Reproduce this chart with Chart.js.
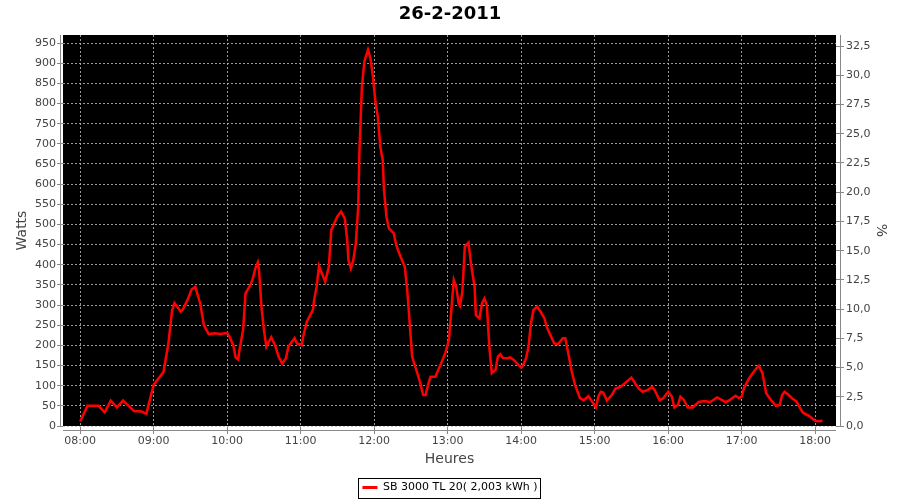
<!DOCTYPE html>
<html>
<head>
<meta charset="utf-8">
<script src="https://cdn.jsdelivr.net/npm/chart.js@4/dist/chart.umd.min.js"></script>
<style>
html,body{margin:0;padding:0;background:#fff;}
#wrap{width:900px;height:500px;}
</style>
</head>
<body>
<div id="wrap"><canvas id="c" width="900" height="500"></canvas></div>
<script>
// ---- data (time in minutes since midnight, power in watts) ----
const chartTitle = '26-2-2011';
const seriesLabel = 'SB 3000 TL 20( 2,003 kWh )';
const minutes = [480,486,495,500,505,510,515,524,530,534,540,548,552,555,557,562,564,568,571,574,
  578,581,585,590,595,600,602,605,607,609,610,613,615,619,621,623,625,626,628,630,632,634,636,639,642,645,648,650,655,657,661,662,665,670,671,
  673,675,680,683,685,688,690,693,696,698,699,701,703,705,707,708,710,712,715,717,719,721,723,725,727,728,730,732,736,738,741,745,747,749,751,754,757,760,762,764,766,770,
  774,778,781,783,785,787,789,790,792,794,797,799,802,803,806,808,810,812,814,816,819,821,823,825,829,831,834,837,840,841,844,846,848,850,853,855,859,861,865,867,870,
  874,876,878,881,884,888,891,895,898,901,903,905,907,910,914,917,921,925,930,933,936,939,943,947,949,953,956,960,963,965,968,970,973,
  976,980,985,990,994,1000,1004,1007,1010,1015,1018,1020,1022,1026,1029,1032,1034,1037,1040,1044,1048,1051,1053,1055,1058,1061,1065,1067,1070,1075,1080,1083,1086];
const watts = [11,50,50,34,63,46,63,37,36,30,102,134,204,286,305,284,290,315,339,345,
  304,250,228,230,228,231,221,200,170,165,188,238,329,350,366,391,406,387,296,238,197,209,220,201,172,155,168,197,218,205,201,221,259,288,313,
  345,397,358,395,486,507,520,532,515,461,412,391,412,453,544,685,842,904,933,912,866,805,767,693,660,586,520,490,478,449,424,395,337,255,172,143,114,77,77,102,122,122,
  151,180,213,288,362,345,304,298,333,445,455,403,345,275,267,304,316,300,197,131,139,172,178,169,168,170,164,154,145,147,168,197,255,288,296,288,267,245,218,205,203,
  218,218,188,139,102,69,64,74,60,46,73,85,83,63,77,93,97,107,120,106,93,85,89,97,89,64,69,85,73,46,52,73,64,
  46,46,60,62,59,71,64,59,64,75,69,73,95,118,131,143,149,131,81,64,50,52,77,85,78,69,60,48,33,25,13,12,13];
const hourValues = [480,540,600,660,720,780,840,900,960,1020,1080];
const hourLabels = ['08:00','09:00','10:00','11:00','12:00','13:00','14:00','15:00','16:00','17:00','18:00'];
const xTitle = 'Heures';
const yTitle = 'Watts';
const y2Title = '%';

const tickFont = {family:'DejaVu Sans', size:11};
const tickColor = '#444444';
const gridColor = 'rgba(190,190,190,0.8)';

const plotBg = {
  id:'plotBg',
  beforeDraw(chart){
    const a = chart.chartArea, ctx = chart.ctx;
    ctx.save(); ctx.fillStyle = '#000'; ctx.fillRect(a.left, a.top, a.right-a.left, a.bottom-a.top); ctx.restore();
  },
  afterDraw(chart){
    const a = chart.chartArea, ctx = chart.ctx;
    ctx.save();
    ctx.strokeStyle = '#888888'; ctx.lineWidth = 1;
    ctx.beginPath();
    ctx.moveTo(a.left-2.5, a.top); ctx.lineTo(a.left-2.5, a.bottom);
    ctx.moveTo(a.right+4.5, a.top); ctx.lineTo(a.right+4.5, a.bottom);
    ctx.moveTo(a.left, a.bottom+4.5); ctx.lineTo(a.right, a.bottom+4.5);
    ctx.stroke();
    const hb = chart.legend && chart.legend.legendHitBoxes && chart.legend.legendHitBoxes[0];
    if (hb) {
      const cy = hb.top + hb.height/2;
      ctx.strokeStyle = '#000'; ctx.lineWidth = 1;
      ctx.strokeRect(Math.round(hb.left-4)+0.5, Math.round(cy-10)+0.5, Math.round(hb.width+7), 20);
    }
    ctx.restore();
  }
};

new Chart(document.getElementById('c'), {
  type:'line',
  data:{
    datasets:[{
      label: seriesLabel,
      data: minutes.map((m,i)=>({x:m, y:watts[i]})),
      borderColor:'#ff0000',
      backgroundColor:'#ff0000',
      borderWidth:2.5,
      pointRadius:0,
      tension:0,
      fill:false,
      yAxisID:'y'
    }]
  },
  options:{
    responsive:false,
    animation:false,
    devicePixelRatio:1,
    layout:{padding:{left:0,right:0,top:0,bottom:-3}},
    plugins:{
      title:{display:true,text:chartTitle,color:'#000',font:{family:'DejaVu Sans',size:18,weight:'bold'},padding:{top:4,bottom:9.4}},
      legend:{
        position:'bottom',
        labels:{
          color:'#333',font:{family:'DejaVu Sans',size:11},boxWidth:15,boxHeight:3,padding:11,
          generateLabels(chart){
            return chart.data.datasets.map((d,i)=>({text:d.label,fillStyle:'#ff0000',strokeStyle:'#ff0000',lineWidth:0,datasetIndex:i,hidden:false}));
          }
        }
      },
      tooltip:{enabled:false}
    },
    scales:{
      x:{
        type:'linear',
        position:'bottom',
        min:466, max:1097,
        afterBuildTicks(scale){ scale.ticks = hourValues.map(v=>({value:v})); },
        afterFit(scale){ scale.height = 45; },
        ticks:{autoSkip:false,maxRotation:0,color:tickColor,font:tickFont,padding:1,
          callback(v){ const i = hourValues.indexOf(v); return i>=0 ? hourLabels[i] : ''; }},
        grid:{color:gridColor,lineWidth:1,tickLength:8,tickColor:'#888888',drawTicks:true},
        border:{display:false,dash:[2,2]},
        title:{display:true,text:xTitle,color:'#444',font:{family:'DejaVu Sans',size:14},padding:{top:0,bottom:3.6}}
      },
      y:{
        type:'linear',
        position:'left',
        min:0, max:970,
        afterFit(scale){ scale.width = 63; },
        ticks:{stepSize:50,includeBounds:false,color:tickColor,font:tickFont,padding:1},
        grid:{color:gridColor,lineWidth:1,tickLength:6,tickColor:'#888888'},
        border:{display:false,dash:[2,2]},
        title:{display:true,text:yTitle,color:'#444',font:{family:'DejaVu Sans',size:14},padding:{top:13.5,bottom:0}}
      },
      y2:{
        type:'linear',
        position:'right',
        min:0, max:33.45,
        afterFit(scale){ scale.width = 64; },
        ticks:{stepSize:2.5,includeBounds:false,color:tickColor,font:tickFont,padding:2,
          callback(v){ return Number(v).toFixed(1).replace('.', ','); }},
        grid:{drawOnChartArea:false,tickLength:8,tickColor:'#888888'},
        border:{display:false},
        title:{display:true,text:y2Title,color:'#444',font:{family:'DejaVu Sans',size:14},padding:{top:11,bottom:0}}
      }
    }
  },
  plugins:[plotBg]
});
</script>
</body>
</html>
